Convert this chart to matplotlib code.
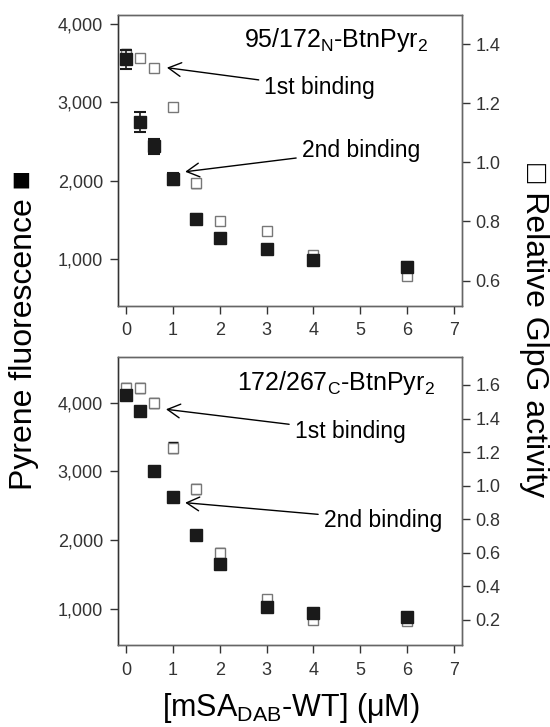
import matplotlib
matplotlib.use("Agg")
import matplotlib.pyplot as plt
from matplotlib.ticker import FuncFormatter, FixedLocator

plt.rcParams['font.family'] = ['Liberation Sans', 'DejaVu Sans']
plt.rcParams['mathtext.fontset'] = 'custom'
plt.rcParams['mathtext.rm'] = 'Liberation Sans'
plt.rcParams['mathtext.it'] = 'Liberation Sans:italic'
plt.rcParams['mathtext.bf'] = 'Liberation Sans:bold'

# ---------------- data ----------------
conc = [0, 0.3, 0.6, 1, 1.5, 2, 3, 4, 6]

top_fluor = [3550, 2748, 2438, 2026, 1515, 1272, 1137, 990, 900]
top_fluor_err = [120, 130, 100, 80, 60, 50, 40, 30, 60]
top_act = [1.365, 1.352, 1.320, 1.189, 0.929, 0.800, 0.767, 0.686, 0.617]
top_act_err = [0.02, 0.01, 0.006, 0.01, 0.015, 0.01, 0.008, 0.01, 0.01]

bot_fluor = [4110, 3879, 3000, 2622, 2083, 1651, 1033, 937, 888]
bot_fluor_err = [40, 30, 30, 30, 30, 30, 30, 30, 30]
bot_act = [1.582, 1.582, 1.490, 1.227, 0.979, 0.600, 0.324, 0.200, 0.190]
bot_act_err = [0.03, 0.03, 0.03, 0.03, 0.03, 0.03, 0.015, 0.02, 0.02]

x_ticks = [0, 1, 2, 3, 4, 5, 6, 7]
left_ticks = [1000, 2000, 3000, 4000]
top_right_ticks = [0.6, 0.8, 1.0, 1.2, 1.4]
bot_right_ticks = [0.2, 0.4, 0.6, 0.8, 1.0, 1.2, 1.4, 1.6]

top_title = "95/172$_{\\mathrm{N}}$-BtnPyr$_{\\mathrm{2}}$"
bot_title = "172/267$_{\\mathrm{C}}$-BtnPyr$_{\\mathrm{2}}$"
xlabel = "[mSA$_{\\mathrm{DAB}}$-WT] (\u03bcM)"
ylabel_left = "Pyrene fluorescence \u25a0"
ylabel_right = "\u25a1 Relative GlpG activity"

# ---------------- figure ----------------
fig = plt.figure(figsize=(5.5, 7.27), dpi=100)
ax1 = fig.add_axes([0.215, 0.5795, 0.6245, 0.3999])
ax3 = fig.add_axes([0.215, 0.1128, 0.6245, 0.3966])

spine_col = '#666666'
tick_col = '#333333'


def style(ax, ax2):
    ax.set_zorder(ax2.get_zorder() + 1)
    ax.patch.set_visible(False)
    for a in (ax, ax2):
        for s in a.spines.values():
            s.set_color(spine_col)
            s.set_linewidth(1.0)
    ax.spines['left'].set_color('#333333')
    ax.set_xlim(-0.17, 7.17)
    ax.xaxis.set_major_locator(FixedLocator(x_ticks))
    ax.tick_params(axis='x', direction='out', length=6, width=1, pad=6,
                   colors=tick_col, labelsize=13, top=False)
    ax.tick_params(axis='y', direction='out', length=6, width=1, pad=5,
                   colors=tick_col, labelsize=13)
    ax2.tick_params(axis='y', direction='out', length=6, width=1, pad=4,
                    colors=tick_col, labelsize=13)
    ax.yaxis.set_major_locator(FixedLocator(left_ticks))
    ax.yaxis.set_major_formatter(FuncFormatter(lambda v, p: f"{v:,.0f}"))
    ax2.yaxis.set_major_formatter(FuncFormatter(lambda v, p: f"{v:.1f}"))


def draw(ax, fl, fle, act, acte, ylim_l, ylim_r, rticks):
    ax2 = ax.twinx()
    ax2.errorbar(conc, act, yerr=acte, fmt='s', ms=7, mfc='white', mec='#777777',
                 mew=1.0, ecolor='black', elinewidth=1, capsize=3.5, capthick=1)
    ax.errorbar(conc, fl, yerr=fle, fmt='s', ms=8.6, mfc='#1a1a1a', mec='#1a1a1a',
                ecolor='#1a1a1a', elinewidth=1.2, capsize=4.5, capthick=1.5)
    ax.set_ylim(*ylim_l)
    ax2.set_ylim(*ylim_r)
    ax2.yaxis.set_major_locator(FixedLocator(rticks))
    style(ax, ax2)
    return ax2


draw(ax1, top_fluor, top_fluor_err, top_act, top_act_err,
     (408, 4115), (0.515, 1.499), top_right_ticks)
draw(ax3, bot_fluor, bot_fluor_err, bot_act, bot_act_err,
     (477, 4669), (0.049, 1.769), bot_right_ticks)

ax1.text(0.902, 0.914, top_title, transform=ax1.transAxes, ha='right',
         va='center', fontsize=18)
ax3.text(0.922, 0.908, bot_title, transform=ax3.transAxes, ha='right',
         va='center', fontsize=18)

arrow = dict(arrowstyle='->,head_length=0.55,head_width=0.3', lw=1.0,
             color='black', shrinkA=2, shrinkB=0)
ax1.annotate("1st binding", xy=(0.87, 3443), xytext=(2.95, 3184),
             ha='left', va='center', fontsize=16.5, arrowprops=arrow)
ax1.annotate("2nd binding", xy=(1.26, 2116), xytext=(3.75, 2393),
             ha='left', va='center', fontsize=16.5, arrowprops=arrow)
ax3.annotate("1st binding", xy=(0.85, 3904), xytext=(3.60, 3578),
             ha='left', va='center', fontsize=16.5, arrowprops=arrow)
ax3.annotate("2nd binding", xy=(1.26, 2546), xytext=(4.22, 2294),
             ha='left', va='center', fontsize=16.5, arrowprops=arrow)

fig.text(291 / 550, 1 - 708 / 727, xlabel, ha='center', va='center', fontsize=22)
fig.text(24 / 550, 1 - 330 / 727, ylabel_left, rotation=90, ha='center',
         va='center', fontsize=23)
fig.text(534 / 550, 1 - 330 / 727, ylabel_right, rotation=-90, ha='center',
         va='center', fontsize=23)

fig.savefig("out.png", dpi=100)
